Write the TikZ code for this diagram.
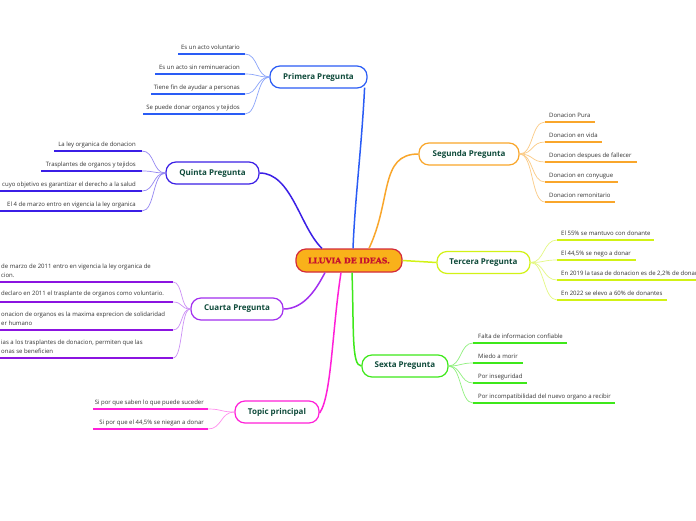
\documentclass[tikz,border=0pt]{standalone}
\usepackage{fontspec}
\setmainfont{Open Sans}
\newfontfamily\titlefont{DejaVu Serif}[BoldFeatures={FakeBold=1.5}]
\usetikzlibrary{calc}
\definecolor{cPri}{HTML}{2A5CF5}\definecolor{cPriL}{HTML}{8AA4FA}
\definecolor{cQui}{HTML}{3B1FE6}\definecolor{cQuiL}{HTML}{9486F2}
\definecolor{cCua}{HTML}{A22FEF}\definecolor{cCuaU}{HTML}{8B14E0}\definecolor{cCuaL}{HTML}{CC90F6}
\definecolor{cTop}{HTML}{FF1FD8}\definecolor{cTopL}{HTML}{FF8DEE}
\definecolor{cSeg}{HTML}{F9A62B}\definecolor{cSegL}{HTML}{FBCB85}
\definecolor{cTer}{HTML}{D2F215}\definecolor{cTerL}{HTML}{E4F883}
\definecolor{cSex}{HTML}{3EE81A}\definecolor{cSexL}{HTML}{90F07E}
\definecolor{cTitle}{HTML}{0E4A3A}
\definecolor{cLeaf}{HTML}{333333}
\definecolor{cCtrFill}{HTML}{F9B11A}\definecolor{cCtrDraw}{HTML}{D42A3B}\definecolor{cCtrText}{HTML}{C5102E}
\tikzset{
  topicbox/.style={draw, line width=1.2pt, fill=white, rounded corners=10pt, inner sep=0pt,
    minimum height=22pt, text=cTitle, font=\fontsize{8}{9}\selectfont\bfseries},
  leaf/.style={inner sep=0pt, text=cLeaf, font=\fontsize{6}{9}\selectfont},
  under/.style={line width=1.5pt},
  twig/.style={line width=0.7pt},
  mainedge/.style={line width=1.5pt},
}
\begin{document}
\begin{tikzpicture}[x=1pt,y=-1pt]
\useasboundingbox (0,0) rectangle (696,520);
\fill[white] (0,0) rectangle (696,520);

% ---------- main nodes
\node[draw=cCtrDraw, fill=cCtrFill, line width=1.2pt, rounded corners=10pt, minimum width=106pt, minimum height=23pt, inner sep=0pt,
  text=cCtrText, font=\titlefont\fontsize{7.8}{9}\selectfont\bfseries] (ctr) at (349,260.5) {LLUVIA DE IDEAS.};
\node[topicbox, draw=cPri, minimum width=97pt] (pri) at (318.5,77) {Primera Pregunta};
\node[topicbox, draw=cSeg, minimum width=100pt] (seg) at (469,154) {Segunda Pregunta};
\node[topicbox, draw=cTer, minimum width=93pt] (ter) at (483.5,262.5) {Tercera Pregunta};
\node[topicbox, draw=cQui, minimum width=93pt] (qui) at (212.5,173) {Quinta Pregunta};
\node[topicbox, draw=cCua, minimum width=92pt] (cua) at (237,309) {Cuarta Pregunta};
\node[topicbox, draw=cTop, minimum width=84pt] (top) at (277,412) {Topic principal};
\node[topicbox, draw=cSex, minimum width=86pt] (sex) at (405,366) {Sexta Pregunta};

% ---------- main edges
\draw[mainedge, cPri] ($(pri.south east)+(-3,-1)$) .. controls +(-3,60) and +(2,-50) .. ($(ctr.north)+(4,0)$);
\draw[mainedge, cSeg] ($(ctr.north)+(20,0)$) .. controls +(23,-49) and +(-39,0) .. (seg.west);
\draw[mainedge, cQui] (qui.east) .. controls +(32,0) and +(-22,-21) .. ($(ctr.north)+(-27,0)$);
\draw[mainedge, cTer] (ctr.east) -- (ter.west);
\draw[mainedge, cCua] ($(ctr.south)+(-24,0)$) .. controls +(-7,13) and +(22,0) .. (cua.east);
\draw[mainedge, cTop] ($(ctr.south)+(-8,0)$) .. controls +(-9,58) and +(12,-17) .. ($(top.east)+(0,1)$);
\draw[mainedge, cSex] ($(ctr.south)+(3,0)$) .. controls +(2,58) and +(-10,0) .. (sex.west);

% ---------- Primera leaves (left)
\foreach \t/\y/\xo [count=\i] in {{Es un acto voluntario}/54/178, {Es un acto sin reminueracion}/74/155,
    {Tiene fin de ayudar a personas}/94/151, {Se puede donar organos y tejidos}/114/143}{
  \coordinate (pri-in-\i) at (245,\y);
  \coordinate (pri-out-\i) at (\xo,\y);
  \draw[twig, cPriL] (pri.west) .. controls +(-13,0) and +(13,0) .. (pri-in-\i);
  \draw[under, cPri] (pri-out-\i) -- (pri-in-\i);
  \node[leaf, anchor=base east] (pri-t-\i) at (240,{\y-5}) {\t};
}

% ---------- Quinta leaves (left)
\foreach \t/\y/\xo [count=\i] in {{La ley organica de donacion}/151/54, {Trasplantes de organos y tejidos}/171/41,
    {cuyo objetivo es garantizar el derecho a la salud}/191/0, {El 4 de marzo entro en vigencia la ley organica}/211/0}{
  \coordinate (qui-in-\i) at (142,\y);
  \coordinate (qui-out-\i) at (\xo,\y);
  \draw[twig, cQuiL] (qui.west) .. controls +(-13,0) and +(13,0) .. (qui-in-\i);
  \draw[under, cQui] (qui-out-\i) -- (qui-in-\i);
  \node[leaf, anchor=base east] (qui-t-\i) at (136,{\y-5}) {\t};
}

% ---------- Cuarta leaves (left, clipped text)
\foreach \t/\y [count=\i] in {{de marzo de 2011 entro en vigencia la ley organica de\\cion.}/282,
    {declaro en 2011 el trasplante de organos como voluntario.}/302,
    {onacion de organos es la maxima exprecion de solidaridad\\er humano}/330,
    {ias a los trasplantes de donacion, permiten que las\\onas se beneficien}/358}{
  \coordinate (cua-in-\i) at (173,\y);
  \coordinate (cua-out-\i) at (0,\y);
  \draw[twig, cCuaL] (cua.west) .. controls +(-10,0) and +(10,0) .. (cua-in-\i);
  \draw[under, cCuaU] (cua-out-\i) -- (cua-in-\i);
  \node[leaf, anchor=south west, align=left] (cua-t-\i) at (1,{\y-4.5}) {\t};
}

% ---------- Topic principal leaves (left)
\foreach \t/\y [count=\i] in {{Si por que saben lo que puede suceder}/409, {Si por que el 44,5\% se niegan a donar}/429}{
  \coordinate (top-in-\i) at (208,\y);
  \coordinate (top-out-\i) at (93,\y);
  \draw[twig, cTopL] (top.west) .. controls +(-14,0) and +(14,0) .. (top-in-\i);
  \draw[under, cTop] (top-out-\i) -- (top-in-\i);
  \node[leaf, anchor=base east] (top-t-\i) at (204,{\y-5}) {\t};
}

% ---------- Segunda leaves (right)
\foreach \t/\y/\xo [count=\i] in {{Donacion Pura}/122/595, {Donacion en vida}/142/602, {Donacion despues de fallecer}/162/637,
    {Donacion en conyugue}/182/618, {Donacion remonitario}/202/615}{
  \coordinate (seg-in-\i) at (545,\y);
  \coordinate (seg-out-\i) at (\xo,\y);
  \draw[twig, cSegL] (seg.east) .. controls +(14,0) and +(-14,0) .. (seg-in-\i);
  \draw[under, cSeg] (seg-in-\i) -- (seg-out-\i);
  \node[leaf, anchor=base west] (seg-t-\i) at (549,{\y-5}) {\t};
}

% ---------- Tercera leaves (right)
\foreach \t/\y/\xo [count=\i] in {{El 55\% se mantuvo con donante}/240/654, {El 44,5\% se nego a donar}/260/636,
    {En 2019 la tasa de donacion es de 2,2\% de donar}/280/696, {En 2022 se elevo a 60\% de donantes}/300/667}{
  \coordinate (ter-in-\i) at (557,\y);
  \coordinate (ter-out-\i) at (\xo,\y);
  \draw[twig, cTerL] (ter.east) .. controls +(14,0) and +(-14,0) .. (ter-in-\i);
  \draw[under, cTer] (ter-in-\i) -- (ter-out-\i);
  \node[leaf, anchor=base west] (ter-t-\i) at (561,{\y-5}) {\t};
}

% ---------- Sexta leaves (right)
\foreach \t/\y/\xo [count=\i] in {{Falta de informacion confiable}/343/567, {Miedo a morir}/363/523,
    {Por inseguridad}/383/527, {Por incompatibilidad del nuevo organo a recibir}/403/615}{
  \coordinate (sex-in-\i) at (473,\y);
  \coordinate (sex-out-\i) at (\xo,\y);
  \draw[twig, cSexL] (sex.east) .. controls +(13,0) and +(-13,0) .. (sex-in-\i);
  \draw[under, cSex] (sex-in-\i) -- (sex-out-\i);
  \node[leaf, anchor=base west] (sex-t-\i) at (478,{\y-5}) {\t};
}
\end{tikzpicture}
\end{document}
